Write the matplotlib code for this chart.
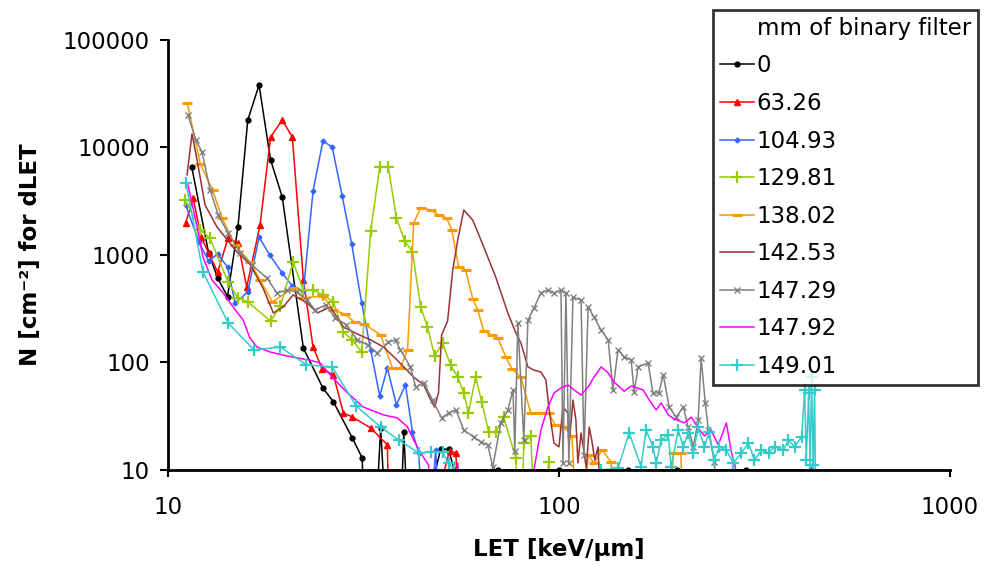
import matplotlib
matplotlib.use("Agg")
import matplotlib.pyplot as plt
from matplotlib.lines import Line2D

plt.rcParams['font.family'] = ['DejaVu Sans']

# LET spectra behind increasing thickness of binary filter (mm).
# A value of 1 marks an empty bin (drawn as a drop to the axis floor).
let_0 = [11.5, 12.7, 13.4, 14.2, 15.1, 16.0, 17.1, 18.3, 19.6, 22.2, 24.9, 26.5, 29.6, 31.4,
         31.9, 33.4, 35.0, 36.7, 38.9, 40.1, 41.7, 49.8, 52.2, 54, 70, 100, 150, 200, 300, 440]
n_0 = [6600, 1050, 610, 410, 1820, 18000, 38100, 7660, 3470, 136, 58, 43, 19.9, 12.9,
       1, 1, 24.6, 1, 1, 22.5, 1, 15.6, 15.6, 10, 10, 10, 10, 10, 10, 10]

let_63 = [11.1, 11.6, 12.15, 12.7, 13.4, 14.25, 15.1, 15.9, 17.2, 18.3, 19.6, 20.8, 22.2, 23.5,
          24.8, 26.5, 28.1, 29.6, 33.0, 36.4, 37.0, 43, 52.5, 54.5, 56]
n_63 = [1990, 3390, 1470, 1045, 695, 1440, 1295, 504, 1900, 12500, 18000, 12500, 585, 139,
        87, 76.5, 33.9, 31.1, 24.6, 17.1, 1, 1, 15, 14.4, 1]

let_105 = [11.1, 12.0, 12.7, 13.4, 14.2, 14.85, 16.0, 17.1, 18.2, 19.6, 20.8, 22.2, 23.5, 24.9,
           26.3, 27.9, 29.5, 31.3, 33.0, 34.8, 36.4, 38.4, 40.5, 42.2, 43.8, 45.6, 48.4, 50]
n_105 = [2920, 1320, 880, 1020, 773, 357, 453, 1470, 1000, 680, 515, 463, 3930, 11500,
         10100, 3540, 1265, 357, 131, 48.8, 89, 40.3, 61.8, 22.6, 14.4, 1, 15.3, 1]

let_130 = [11.06, 12.1, 12.8, 14.25, 15.1, 16.0, 18.3, 19.4, 20.9, 22.2, 23.5, 24.9, 26.5, 28.1,
           29.6, 31.3, 33.0, 34.8, 36.6, 38.4, 40.3, 42.2, 44.3, 46.1, 48.1, 50.4, 52.8, 55.1,
           57.1, 58.7, 61.2, 63.5, 66.1, 68.9, 72.2, 77.6, 79.5, 81.3, 84.7, 88, 94.2, 97]
n_130 = [3250, 1710, 1440, 561, 398, 366, 243, 336, 861, 472, 472, 425, 366, 192,
         162, 125, 1670, 6590, 6590, 2210, 1350, 1070, 328, 214, 115, 152, 95, 73,
         52, 33.9, 73, 43, 22.5, 22.5, 31, 12.9, 1, 17.8, 20.7, 1, 11.9, 1]

let_138 = [11.2, 12.1, 13.0, 13.75, 14.85, 16.2, 17.2, 18.5, 20.9, 22.2, 24.9, 26.5, 28.3, 30.0,
           31.8, 35.0, 37.5, 39.3, 41.0, 42.5, 44.3, 47.0, 49.2, 51.6, 53.2, 55.4, 57.7, 60.2,
           62.0, 64.2, 67.3, 69.8, 73.1, 75.8, 79.9, 84.7, 89.9, 94.2, 97.7, 103, 108, 112.5,
           118.7, 122.9, 128.9, 135.9, 140, 190, 196, 205, 210]
n_138 = [25900, 7030, 4030, 2210, 1240, 861, 585, 366, 493, 398, 416, 307, 283, 238,
         228, 180, 89, 89, 131, 1990, 2740, 2620, 2360, 2210, 1710, 773, 725, 390,
         307, 196, 180, 169, 113, 87, 73, 33.9, 33.9, 33.9, 26.2, 25.1, 20.7, 1,
         13.8, 11.6, 15.3, 11.9, 1, 1, 14.4, 14.4, 1]

let_143 = [11.19, 11.52, 11.87, 12.44, 13.35, 15.0, 16.2, 17.5, 18.6, 19.7, 20.9, 22.7, 24.1, 26.0,
           28.1, 30.5, 33.0, 35.6, 38.6, 42.5, 45.1, 47.0, 48.1, 49.2, 50.1, 51.9, 53.5, 55.1,
           57.1, 60.2, 64.2, 68.9, 74.0, 77.6, 79.9, 83.3, 86.3, 89.9, 92.6, 94.2, 97.1, 100,
           102.4, 105.4, 106, 108.6, 110.5, 111.8, 113.9, 117.5, 119.5, 121.3, 123.5, 125.9, 129.6]
n_143 = [5550, 13400, 7660, 2920, 1820, 1070, 824, 493, 289, 328, 425, 357, 289, 328,
         214, 184, 162, 139, 105, 73, 61.8, 44.8, 38.5, 52, 180, 243, 725, 1380,
         2620, 2110, 1190, 624, 289, 188, 152, 91, 85, 81.6, 68.7, 38.5, 17.8, 16.4,
         38.5, 33.9, 16.4, 44.8, 29, 11.6, 22.1, 10.4, 25.1, 19, 12.4, 16.4, 1]

let_147a = [11.25, 11.8, 12.22, 12.82, 13.44, 14.25, 15.3, 16.4, 17.9, 19.0, 20.2, 21.4, 22.7, 23.8,
            25.3, 26.8, 28.6, 30.5, 32.4, 34.3, 36.6, 38.2, 39.3, 41.7, 43.0, 45.1, 47.5, 50.1,
            52.2, 54.5, 57.1, 60.5, 63.1, 65.8, 67.7, 71.0, 74.0, 76.3, 77.1, 78.5, 81.3, 83.3,
            86.3, 89.9, 93.7, 97.1, 101.2, 102.4, 104.2, 106, 108.6, 113.9, 115.9, 118.7, 122.9,
            128.2, 133.6, 137.4, 141.6, 146.8, 153, 155.7, 159.4, 169, 174, 180, 184.8, 191.4,
            199.5, 208, 214, 220.7, 227, 231, 236.7, 241, 249.7, 257]
n_147a = [20000, 11700, 9070, 4030, 2360, 1600, 1045, 807, 611, 443, 472, 453, 381, 307,
          344, 260, 224, 162, 146, 122, 155, 162, 131, 91, 59, 64.5, 44.8, 30.5,
          33.9, 36.2, 23.5, 20.3, 18.2, 17.1, 10.6, 27.4, 36.2, 55.5, 15, 233, 19, 248,
          321, 443, 472, 443, 472, 11.6, 443, 11.6, 406, 381, 13.8, 328, 265,
          200, 162, 55.5, 131, 113, 105, 53, 91, 99, 52, 52, 76.5, 38.5,
          31, 38.5, 25.1, 16.4, 29, 110, 42, 23.5, 11.9, 1]

let_147b = [11.25, 11.73, 12.29, 12.96, 13.84, 14.68, 15.57, 16.2, 16.9, 18.26, 20.6, 23.1, 24.5,
            26.3, 28.8, 31.6, 35.6, 38.6, 41.0, 42.5, 44.3, 46.4, 48.1, 52.8, 55.1, 57.7, 84,
            86.3, 89.9, 93.7, 97.1, 101.2, 105.4, 109.3, 113.9, 118.7, 122.9, 128.2, 133.6, 138.3,
            146.8, 153, 164.2, 170.1, 177.3, 182.6, 190.4, 197.2, 209.2, 218, 227, 235.5, 245,
            255.6, 268, 276, 282.6, 292.8, 430, 437.5, 445]
n_147b = [4480, 2250, 957, 585, 443, 328, 248, 169, 139, 125, 113, 105, 99,
          73, 52, 38.5, 32.5, 30.5, 25.1, 19, 14.4, 11.1, 1, 1, 11.6, 1, 1,
          10, 23.5, 38.5, 52, 58, 61.8, 55.5, 49.9, 59, 73, 91, 80, 66,
          54, 60.5, 55.5, 44.8, 36.2, 42, 32.5, 29.8, 27.4, 31, 24.6, 20.7, 23.5,
          17.1, 27.4, 14.7, 10.7, 1, 1, 10.4, 1]

let_149 = [11.12, 12.29, 14.25, 16.6, 19.4, 22.6, 26.3, 30.3, 35.0, 38.9, 43.8, 47.0, 50.4, 52.2,
           54, 128, 141.6, 151.2, 162.2, 167.1, 174, 177.3, 182.6, 190.4, 193.7, 201.8, 208, 214,
           220.7, 227, 235.5, 242.4, 249.7, 257, 268, 279.3, 292.8, 305.2, 316.2, 329.6, 343.6,
           356, 375, 386, 400.5, 417.4, 425, 429, 435, 439, 442.6, 447, 450.6, 455]
n_149 = [4680, 695, 233, 131, 139, 95, 91, 39.4, 25.1, 19, 14.4, 14.7, 14.7, 11.6,
         10, 10, 10.4, 22.1, 10.7, 23.5, 16.4, 11.6, 19, 21.2, 10.7, 23.5, 16.4, 22.1,
         14.4, 25.1, 16.4, 22.5, 12.4, 16.4, 15.3, 11.6, 14.4, 17.8, 12.4, 15.3, 14.4,
         16.4, 15.3, 19, 16.4, 20.3, 55.5, 12.4, 52, 10, 73, 11.1, 55.5, 1]

labels = ['0', '63.26', '104.93', '129.81', '138.02', '142.53', '147.29', '147.92', '149.01']
series = [(let_0, n_0), (let_63, n_63), (let_105, n_105), (let_130, n_130), (let_138, n_138),
          (let_143, n_143), (let_147a, n_147a), (let_147b, n_147b), (let_149, n_149)]
styles = [
    dict(color='black', marker='o', ms=3.5),
    dict(color='#FF0000', marker='^', ms=4),
    dict(color='#3366FF', marker='D', ms=2.5),
    dict(color='#99CC00', marker='+', ms=9, mew=1.6),
    dict(color='#FF9900', marker='_', ms=7, mew=2.2),
    dict(color='#993333', marker=None),
    dict(color='#808080', marker='x', ms=5, mew=1),
    dict(color='#FF00FF', marker=None),
    dict(color='#33CCCC', marker='+', ms=8, mew=1.6),
]

fig = plt.figure(figsize=(9.88, 5.73), dpi=100)
ax = fig.add_axes([0.170, 0.1798, 0.7915, 0.7504])

handles = [Line2D([], [], color='none', label='mm of binary filter')]
for (x, y), lab, st in zip(series, labels, styles):
    h, = ax.plot(x, y, lw=1.1, label=lab, **st)
    handles.append(h)

ax.set_xscale('log')
ax.set_yscale('log')
ax.set_xlim(10, 1000)
ax.set_ylim(10, 100000)
ax.minorticks_off()
ax.set_xticks([10, 100, 1000])
ax.set_xticklabels(['10', '100', '1000'])
ax.set_yticks([10, 100, 1000, 10000, 100000])
ax.set_yticklabels(['10', '100', '1000', '10000', '100000'])

for side in ('top', 'right'):
    ax.spines[side].set_visible(False)
for side in ('left', 'bottom'):
    ax.spines[side].set_linewidth(2)
ax.tick_params(axis='y', direction='out', length=6, width=1.5, pad=7, labelsize=16.5)
ax.tick_params(axis='x', direction='out', length=5, width=1.5, pad=14, labelsize=16.5)

ax.set_xlabel('LET [keV/\u00b5m]', fontsize=16.5, fontweight='bold')
ax.set_ylabel('N [cm\u207b\u00b2] for dLET', fontsize=16.5, fontweight='bold')
ax.xaxis.set_label_coords(0.5, -0.158)
ax.yaxis.set_label_coords(-0.161, 0.5)

leg = fig.legend(handles=handles, loc='upper left', bbox_to_anchor=(0.7217, 0.9825),
                 fontsize=16.5, frameon=True, fancybox=False, borderpad=0.3,
                 labelspacing=0.635, handlelength=1.5, handletextpad=0.1,
                 borderaxespad=0)
leg.get_frame().set_edgecolor('black')
leg.get_frame().set_linewidth(2)

fig.savefig('out.png', dpi=100)
